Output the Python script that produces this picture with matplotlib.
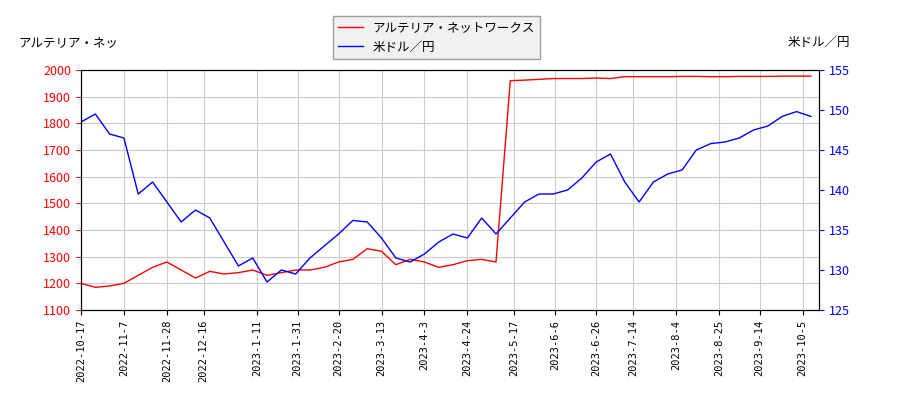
import numpy as np
import pandas as pd
import matplotlib
matplotlib.use('Agg')
import matplotlib.pyplot as plt

plt.rcParams['font.family'] = ['Noto Sans CJK JP', 'DejaVu Sans']

# weekly values (Mondays)
dates = pd.date_range('2022-10-17', '2023-10-09', freq='7D')
stock = [1200, 1185, 1190, 1200, 1230, 1260, 1280, 1250, 1220, 1245, 1235, 1240,
         1250, 1230, 1240, 1250, 1250, 1260, 1280, 1290, 1330, 1320, 1270, 1290,
         1280, 1260, 1270, 1285, 1290, 1280, 1960, 1962, 1965, 1968, 1968, 1968,
         1970, 1968, 1975, 1975, 1975, 1975, 1976, 1976, 1975, 1975, 1976, 1976,
         1976, 1977, 1977, 1977]
usdjpy = [148.5, 149.5, 147, 146.5, 139.5, 141, 138.5, 136, 137.5, 136.5, 133.5, 130.5,
          131.5, 128.5, 130, 129.5, 131.5, 133, 134.5, 136.2, 136, 134, 131.5, 131,
          132, 133.5, 134.5, 134, 136.5, 134.5, 136.5, 138.5, 139.5, 139.5, 140, 141.5,
          143.5, 144.5, 141, 138.5, 141, 142, 142.5, 145, 145.8, 146, 146.5, 147.5,
          148, 149.2, 149.8, 149.2]
tick_labels = ['2022-10-17', '2022-11-7', '2022-11-28', '2022-12-16', '2023-1-11',
               '2023-1-31', '2023-2-20', '2023-3-13', '2023-4-3', '2023-4-24',
               '2023-5-17', '2023-6-6', '2023-6-26', '2023-7-14', '2023-8-4',
               '2023-8-25', '2023-9-14', '2023-10-5']

fig, ax = plt.subplots(figsize=(9, 4), dpi=100)
fig.subplots_adjust(left=0.09, right=0.91, top=0.825, bottom=0.225)
ax2 = ax.twinx()

l1, = ax.plot(dates, stock, color='red', lw=1, label='アルテリア・ネットワークス')
l2, = ax2.plot(dates, usdjpy, color='blue', lw=1, label='米ドル／円')

ax.set_ylim(1100, 2000)
ax.set_yticks(range(1100, 2001, 100))
ax2.set_ylim(125, 155)
ax.set_xlim(pd.Timestamp('2022-10-17'), pd.Timestamp('2023-10-13'))
ax.set_xticks(pd.to_datetime(tick_labels))
ax.set_xticklabels(tick_labels, rotation=90, fontsize=7.5, family='DejaVu Sans Mono')
ax.tick_params(axis='y', colors='red', labelsize=9)
ax2.tick_params(axis='y', colors='blue', labelsize=9)
ax.grid(True, color='#cccccc')

fig.text(0.02, 0.885, 'アルテリア・ネッ', fontsize=9)
fig.text(0.945, 0.885, '米ドル／円', fontsize=9, ha='right')
fig.legend(handles=[l1, l2], loc='upper center', bbox_to_anchor=(0.485, 0.975),
           fontsize=9, fancybox=False, edgecolor='#888888', facecolor='#eeeeee')

fig.savefig('out.png')
